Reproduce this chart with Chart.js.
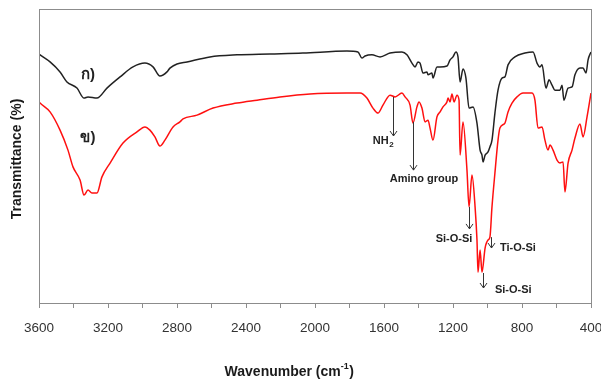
<!DOCTYPE html>
<html>
<head>
<meta charset="utf-8">
<script src="https://cdn.jsdelivr.net/npm/chart.js@4.4.0/dist/chart.umd.min.js"></script>
<style>
  html, body { margin: 0; padding: 0; background: #fff; }
</style>
</head>
<body>
<canvas id="ftir" width="601" height="381"></canvas>
<script>
// spectrum (a) - black, wavenumber in cm-1 and transmittance (arbitrary %)
var blackWn = [3600, 3594, 3536, 3478, 3438, 3380, 3339, 3316, 3264, 3206, 3130, 3055, 2986, 2939, 2899, 2858, 2841, 2800, 2742, 2609,
  2452, 2261, 2070, 1815, 1751, 1728, 1710, 1670, 1623, 1565, 1496, 1467, 1438, 1420, 1403, 1391, 1374, 1351, 1345, 1322,
  1316, 1293, 1275, 1235, 1217, 1200, 1183, 1171, 1159, 1142, 1125, 1107, 1084, 1061, 1043, 1032, 1026, 1014, 997, 986,
  974, 957, 939, 916, 899, 881, 841, 783, 736, 713, 696, 684, 661, 643, 626, 609, 580, 568, 557, 533,
  510, 493, 464, 446, 429, 417, 400];
var blackT = [84.7, 84.4, 82.0, 78.6, 75.2, 73.1, 69.7, 70.1, 69.7, 73.1, 76.9, 80.3, 81.6, 80.3, 77.2, 78.6, 79.9, 81.3, 82.0, 83.7,
  84.4, 84.7, 85.0, 85.7, 85.4, 83.3, 84.0, 84.4, 83.7, 85.0, 85.4, 84.4, 81.6, 80.3, 82.0, 81.6, 78.2, 78.6, 77.6, 78.2,
  76.5, 80.3, 80.3, 80.6, 82.7, 83.7, 85.4, 83.7, 75.2, 79.6, 76.5, 66.3, 66.7, 61.2, 52.0, 50.3, 48.0, 50.3, 51.4, 53.1,
  55.4, 64.6, 72.4, 76.5, 76.9, 81.0, 83.7, 85.0, 85.4, 81.6, 80.3, 81.0, 73.1, 75.9, 74.1, 72.4, 72.4, 74.1, 69.0, 73.1,
  73.5, 77.6, 79.9, 79.9, 78.2, 82.7, 85.4];

// spectrum (b) - red
var redWn = [3600, 3594, 3536, 3478, 3432, 3403, 3362, 3339, 3316, 3293, 3264, 3235, 3188, 3113, 3032, 2986, 2957, 2928, 2899, 2870,
  2823, 2783, 2765, 2684, 2591, 2452, 2336, 2203, 2029, 1815, 1739, 1699, 1664, 1635, 1606, 1565, 1536, 1496, 1478, 1449,
  1432, 1409, 1397, 1380, 1362, 1345, 1333, 1316, 1293, 1275, 1258, 1235, 1229, 1217, 1206, 1194, 1177, 1165, 1159, 1142,
  1119, 1107, 1090, 1072, 1061, 1055, 1043, 1032, 1014, 997, 986, 974, 957, 939, 928, 899, 881, 858, 829, 794,
  742, 725, 707, 684, 667, 649, 638, 620, 597, 580, 562, 551, 533, 510, 493, 464, 446, 423, 400];
var redT = [68.4, 68.0, 65.0, 58.8, 52.0, 46.3, 41.8, 36.7, 38.4, 37.4, 37.4, 42.9, 47.6, 54.4, 58.2, 59.9, 58.8, 56.5, 53.4, 55.4,
  59.9, 61.6, 62.6, 63.9, 66.3, 68.0, 69.0, 70.1, 71.1, 71.4, 71.4, 69.7, 66.3, 64.6, 67.3, 70.7, 70.1, 71.4, 70.1, 67.3,
  61.2, 66.7, 68.4, 66.3, 61.6, 62.2, 59.5, 55.4, 63.3, 65.0, 66.7, 68.4, 69.7, 68.4, 71.1, 68.4, 70.7, 69.0, 50.3, 61.6,
  45.2, 32.7, 43.5, 32.7, 21.4, 10.5, 18.0, 10.5, 18.7, 21.4, 22.4, 32.7, 44.2, 55.4, 59.5, 61.2, 65.0, 68.0, 70.1, 71.4,
  71.4, 69.0, 59.5, 59.9, 55.4, 52.0, 53.7, 52.0, 48.6, 47.6, 48.0, 37.8, 47.6, 52.0, 56.1, 60.9, 56.5, 63.3, 71.4];

var xTickLabels = [3600, 3200, 2800, 2400, 2000, 1600, 1200, 800, 400];
var seriesNames = ['ก)', 'ข)'];

// band assignments: arrow at wn from one transmittance to another, label placed below
var bands = [
  { text: 'NH', sub: '2', wn: 1548, from: 70.1, to: 56.8, lx: 1606, ly: 55.1, align: 'center' },
  { text: 'Amino group', wn: 1432, from: 61.6, to: 45.2, lx: 1368, ly: 42.2, align: 'center' },
  { text: 'Si-O-Si', wn: 1107, from: 32.7, to: 25.2, lx: 1194, ly: 21.8, align: 'center' },
  { text: 'Ti-O-Si', wn: 980, from: 22.4, to: 18.7, lx: 928, ly: 18.7, align: 'left' },
  { text: 'Si-O-Si', wn: 1026, from: 10.2, to: 5.1, lx: 957, ly: 4.4, align: 'left' }
];
var nameSpots = [[3316, 77.6], [3316, 56.1]];

var FONT = '"Liberation Sans", Arial, sans-serif';

function toPoints(wn, t) {
  return wn.map(function (w, i) { return { x: w, y: t[i] }; });
}

var extras = {
  id: 'extras',
  afterDraw: function (chart) {
    var ctx = chart.ctx, a = chart.chartArea;
    var sx = chart.scales.x, sy = chart.scales.y;
    ctx.save();

    // frame round the plot
    ctx.strokeStyle = '#8c8c8c';
    ctx.lineWidth = 1;
    ctx.strokeRect(Math.round(a.left) + 0.5, Math.round(a.top) + 0.5, Math.round(a.right - a.left), Math.round(a.bottom - a.top));

    // series names
    ctx.fillStyle = '#222';
    ctx.font = 'bold 15px ' + FONT;
    ctx.textAlign = 'center';
    ctx.textBaseline = 'middle';
    nameSpots.forEach(function (p, i) {
      ctx.fillText(seriesNames[i], sx.getPixelForValue(p[0]), sy.getPixelForValue(p[1]));
    });

    // arrows + labels
    ctx.strokeStyle = '#333';
    ctx.lineWidth = 1;
    bands.forEach(function (b) {
      var x = Math.round(sx.getPixelForValue(b.wn)) + 0.5;
      var y1 = sy.getPixelForValue(b.from), y2 = sy.getPixelForValue(b.to);
      ctx.beginPath();
      ctx.moveTo(x, y1);
      ctx.lineTo(x, y2);
      ctx.moveTo(x - 3.5, y2 - 5);
      ctx.lineTo(x, y2);
      ctx.lineTo(x + 3.5, y2 - 5);
      ctx.stroke();

      var lx = sx.getPixelForValue(b.lx), ly = sy.getPixelForValue(b.ly);
      ctx.font = 'bold 11px ' + FONT;
      var w = ctx.measureText(b.text).width;
      var ws = 0;
      if (b.sub) {
        ctx.font = 'bold 8px ' + FONT;
        ws = ctx.measureText(b.sub).width;
      }
      var start = b.align === 'center' ? lx - (w + ws) / 2 : lx;
      ctx.textAlign = 'left';
      ctx.font = 'bold 11px ' + FONT;
      ctx.fillText(b.text, start, ly);
      if (b.sub) {
        ctx.font = 'bold 8px ' + FONT;
        ctx.fillText(b.sub, start + w + 0.5, ly + 4);
      }
    });

    // axis titles
    ctx.fillStyle = '#1a1a1a';
    ctx.font = 'bold 14px ' + FONT;
    var t1 = 'Wavenumber (cm', t2 = '-1', t3 = ')';
    var w1 = ctx.measureText(t1).width, w3 = ctx.measureText(t3).width;
    ctx.font = 'bold 9px ' + FONT;
    var w2 = ctx.measureText(t2).width;
    var x0 = 289 - (w1 + w2 + w3) / 2, yT = 372;
    ctx.textAlign = 'left';
    ctx.font = 'bold 14px ' + FONT;
    ctx.fillText(t1, x0, yT);
    ctx.font = 'bold 9px ' + FONT;
    ctx.fillText(t2, x0 + w1, yT - 5);
    ctx.font = 'bold 14px ' + FONT;
    ctx.fillText(t3, x0 + w1 + w2 + 0.5, yT);

    ctx.translate(17, 159);
    ctx.rotate(-Math.PI / 2);
    ctx.textAlign = 'center';
    ctx.fillText('Transmittance (%)', 0, 0);
    ctx.restore();
  }
};

new Chart(document.getElementById('ftir'), {
  type: 'line',
  data: {
    datasets: [
      {
        label: seriesNames[0],
        data: toPoints(blackWn, blackT),
        borderColor: '#222',
        borderWidth: 1.5,
        pointRadius: 0,
        cubicInterpolationMode: 'monotone',
        fill: false
      },
      {
        label: seriesNames[1],
        data: toPoints(redWn, redT),
        borderColor: '#ff1010',
        borderWidth: 1.5,
        pointRadius: 0,
        cubicInterpolationMode: 'monotone',
        fill: false
      }
    ]
  },
  options: {
    responsive: false,
    animation: false,
    layout: { padding: { top: 9, right: 10, left: 0, bottom: 0 } },
    plugins: { legend: { display: false }, tooltip: { enabled: false } },
    scales: {
      x: {
        type: 'linear',
        min: 400,
        max: 3600,
        reverse: true,
        afterFit: function (s) { s.height = 78; s.paddingLeft = 0; s.paddingRight = 0; },
        ticks: {
          stepSize: 200,
          autoSkip: false,
          maxRotation: 0,
          padding: 12,
          color: '#333',
          font: { family: FONT, size: 13.5 },
          callback: function (v) { return xTickLabels.indexOf(v) >= 0 ? String(v) : ''; }
        },
        grid: { drawOnChartArea: false, drawTicks: true, tickLength: 5, color: '#8c8c8c' },
        border: { color: '#8c8c8c' }
      },
      y: {
        min: 0,
        max: 100,
        afterFit: function (s) { s.width = 39; s.paddingTop = 0; s.paddingBottom = 0; },
        ticks: { display: false },
        grid: { display: false },
        border: { display: true, color: '#8c8c8c' }
      }
    }
  },
  plugins: [extras]
});
</script>
</body>
</html>
